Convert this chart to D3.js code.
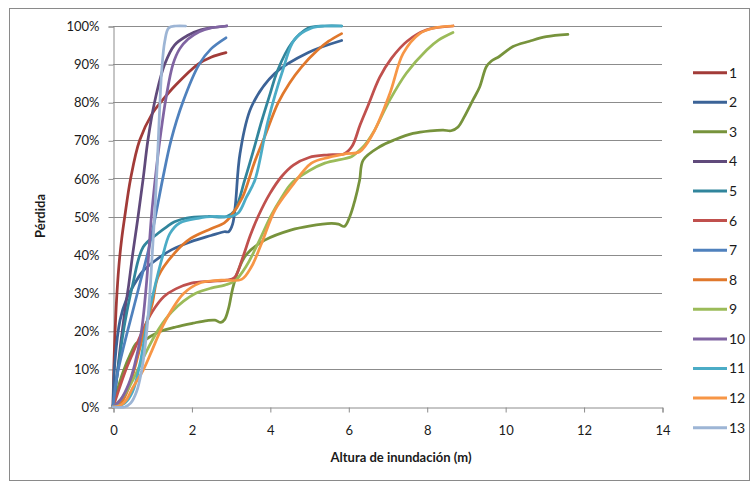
<!DOCTYPE html>
<html><head><meta charset="utf-8">
<script src="https://cdn.jsdelivr.net/npm/d3@7"></script>
<style>
html,body{margin:0;padding:0;background:#fff;}
svg text{font-family:Lato,"Open Sans",sans-serif;fill:#1a1a1a;}
</style></head>
<body>
<svg id="chart" width="751" height="487"></svg>
<script>
// ---- data ----
const seriesNames = ["1","2","3","4","5","6","7","8","9","10","11","12","13"];
const xTicks = [0,2,4,6,8,10,12,14];
const yTicks = [0,0.1,0.2,0.3,0.4,0.5,0.6,0.7,0.8,0.9,1.0];

const depth1 = [0,0.02,0.05,0.09,0.15,0.22,0.3,0.45,0.68,1.0,1.22,1.6,2.17,2.5,2.88];
const loss1  = [0,10,19,28,37,44,50,60,70,77,80,84.5,90,91.8,93];

const depth2 = [0,0.05,0.18,0.35,0.51,0.75,1.02,1.5,1.99,2.5,2.84,2.95,3.05,3.12,3.24,3.53,4.13,4.97,5.83];
const loss2  = [0,12,22.8,28.5,31.6,35.5,38,41.3,43.4,45,46,46,48,53,66.6,78.8,87.6,93,96.2];

const depth3 = [0,0.1,0.25,0.45,0.6,0.8,0.95,1.2,1.6,2.04,2.4,2.6,2.75,2.85,2.95,3.05,3.2,3.4,3.87,4.55,5.0,5.57,5.75,5.9,6.04,6.17,6.29,6.38,6.8,7.2,7.65,8.1,8.42,8.62,8.8,8.95,9.18,9.35,9.52,9.65,9.85,10.2,10.62,11.05,11.6];
const loss3  = [0,4,9,14,16.8,17.5,18.5,19.8,21,22,22.7,22.8,22.2,23,26,31,36,40,43.8,46.5,47.5,48.2,48,47.4,50,54.3,59.6,64.8,68.3,70.2,71.8,72.5,72.7,72.5,73.5,76,80.6,84,89.3,90.8,92,94.6,96,97.2,97.8];

const depth4 = [0,0.1,0.2,0.3,0.4,0.5,0.64,0.77,0.89,1.06,1.32,1.57,1.9,2.24,2.9];
const loss4  = [0,8,17,25,32,40,50,60,70,80,90,95,97.5,99,100];

const depth5 = [0,0.1,0.3,0.5,0.77,1.15,1.37,1.57,1.88,2.42,2.9,3.1,3.36,3.6,3.79,4.0,4.2,4.55,4.97,5.4,5.83];
const loss5  = [0,8,22,32,42,45.6,47.3,48.6,49.6,50,50,51.5,59.6,68,75,82,88.4,95.4,99.4,100,100];

const depth6 = [0,0.1,0.3,0.5,0.8,1.0,1.3,1.6,2.0,2.5,2.9,3.1,3.3,3.5,3.7,4.0,4.3,4.6,5.0,5.5,5.9,6.1,6.3,6.5,6.8,7.1,7.5,8.0,8.67];
const loss6  = [0,3,9,14,21,25,29,31,32.5,33,33.3,34,39,45,50,56,60.5,63.5,65.5,66.2,66.5,68.5,74,79,86.5,91.5,96,99,100];

const depth7 = [0,0.1,0.3,0.5,0.7,0.9,1.1,1.27,1.48,1.78,2.2,2.5,2.88];
const loss7  = [0,8,17,25,33,41,51,60,70,80,90,94,96.9];

const depth8 = [0,0.2,0.4,0.6,0.8,1.0,1.15,1.57,1.99,2.5,2.84,3.0,3.3,3.6,3.87,4.21,4.5,4.81,5.2,5.5,5.83];
const loss8  = [0,1,5,12,20,27,34.2,40.4,44.3,46.8,48.3,50,55,64,71,79.8,85,89.3,93.5,96,98];

const depth9 = [0,0.2,0.4,0.6,0.8,1.0,1.2,1.5,1.8,2.1,2.5,2.85,3.1,3.4,3.7,4.04,4.3,4.55,5.0,5.4,6.08,6.2,6.4,6.63,7.06,7.48,8.0,8.3,8.67];
const loss9  = [0,2,5,9,13.5,17.5,21,25,27.8,29.8,31.2,32,33,37,43,50.4,55,58.7,62,64,65.7,66.6,68.5,71.9,80.6,87.6,93.7,96.3,98.3];

const depth10 = [0,0.2,0.4,0.55,0.72,0.85,0.98,1.1,1.22,1.35,1.53,1.7,1.91,2.2,2.5,2.9];
const loss10  = [0,2,6,11,19.5,32,50,62,72,81,90,94,96.5,98.5,99.5,100];

const depth11 = [0,0.3,0.5,0.7,0.9,1.1,1.25,1.45,1.7,2.2,2.6,3.0,3.2,3.4,3.62,3.95,4.33,4.63,5.05,5.4,5.83];
const loss11  = [0,1,4,12,24,33,39,45.5,48.3,49.6,50,50,51,55,59.6,75,88.4,96.5,99.4,100,100];

const depth12 = [0,0.2,0.35,0.5,0.77,1.0,1.2,1.5,1.8,2.2,2.6,2.85,3.28,3.53,3.79,4.13,4.55,5.06,5.5,5.95,6.29,6.63,7.06,7.4,7.82,8.2,8.67];
const loss12  = [0,0.5,2,5,9.7,15,19.8,25.5,29.8,32.5,33.2,33.3,33.5,36.8,43,51.7,57.8,64,65.5,66.5,67,71.8,82.3,92.8,98,99.5,100];

const depth13 = [0,0.3,0.45,0.6,0.72,0.82,0.92,1.0,1.07,1.13,1.18,1.24,1.32,1.42,1.6,1.85];
const loss13  = [0,0,1,4,9,16,27,40,52,64,76,88,96,99.5,100,100];

const seriesColors = ["#A23B38","#3B6397","#77933C","#604A7B","#31859C","#C0504D","#4F81BD","#E0782C","#9BBB59","#8064A2","#4BACC6","#F79646","#9DB5D5"];

const depths = [depth1,depth2,depth3,depth4,depth5,depth6,depth7,depth8,depth9,depth10,depth11,depth12,depth13];
const losses = [loss1,loss2,loss3,loss4,loss5,loss6,loss7,loss8,loss9,loss10,loss11,loss12,loss13];

// ---- layout ----
const svg = d3.select("#chart");
const W = 751, H = 487;
const plot = {left:113, right:662, top:26, bottom:407};

svg.append("rect").attr("x",0).attr("y",0).attr("width",W).attr("height",H).attr("fill","#fff");
svg.append("rect").attr("x",9.5).attr("y",8.5).attr("width",740).attr("height",472)
  .attr("fill","none").attr("stroke","#8a8a8a").attr("stroke-width",1);

const x = d3.scaleLinear().domain([0,14]).range([plot.left, plot.right]);
const y = d3.scaleLinear().domain([0,1]).range([plot.bottom, plot.top]);

// gridlines
svg.append("g").selectAll("line").data(yTicks.filter(d=>d>0)).join("line")
  .attr("x1",plot.left).attr("x2",plot.right)
  .attr("y1",d=>Math.round(y(d))+0.5).attr("y2",d=>Math.round(y(d))+0.5)
  .attr("stroke","#8c8c8c").attr("stroke-width",1);

// axes
const yAxis = d3.axisLeft(y).tickValues(yTicks).tickFormat(d3.format(".0%")).tickSize(5).tickPadding(9);
const gy = svg.append("g").attr("transform",`translate(${plot.left+0.5},0.5)`).call(yAxis);
gy.select(".domain").attr("stroke","#8c8c8c");
gy.selectAll(".tick line").attr("stroke","#8c8c8c");
gy.selectAll(".tick text").attr("font-size",13).attr("font-family","Lato, sans-serif").attr("fill","#1a1a1a");

const xAxis = d3.axisBottom(x).tickValues(xTicks).tickFormat(d3.format("d")).tickSize(5).tickPadding(13);
const gx = svg.append("g").attr("transform",`translate(0.5,${plot.bottom+0.5})`).call(xAxis);
gx.select(".domain").attr("stroke","#8c8c8c");
gx.selectAll(".tick line").attr("stroke","#8c8c8c");
gx.selectAll(".tick text").attr("font-size",13).attr("font-family","Lato, sans-serif").attr("fill","#1a1a1a");

// axis titles
svg.append("text").attr("x",401).attr("y",462).attr("text-anchor","middle")
  .attr("font-size",13).attr("font-weight","bold").text("Altura de inundación (m)");
svg.append("text").attr("transform","translate(45,216) rotate(-90)").attr("text-anchor","middle")
  .attr("font-size",13).attr("font-weight","bold").text("Pérdida");

// lines
const line = d3.line().x(d=>x(d[0])).y(d=>y(d[1]/100)).curve(d3.curveCatmullRom.alpha(0.5));
const g = svg.append("g");
seriesNames.forEach((name,i)=>{
  const pts = depths[i].map((d,j)=>[d, losses[i][j]]);
  g.append("path").datum(pts).attr("d",line).attr("fill","none")
    .attr("stroke",seriesColors[i]).attr("stroke-width",2.75)
    .attr("stroke-linejoin","round").attr("stroke-linecap","round");
});

// legend
const leg = svg.append("g");
const legY = d3.scaleLinear().domain([0,12]).range([72.7,427.7]);
seriesNames.forEach((name,i)=>{
  const yy = legY(i);
  leg.append("line").attr("x1",693).attr("x2",727).attr("y1",yy).attr("y2",yy)
    .attr("stroke",seriesColors[i]).attr("stroke-width",3);
  leg.append("text").attr("x",729).attr("y",yy).attr("dy","0.35em")
    .attr("font-size",14).text(name);
});
</script>
</body></html>
